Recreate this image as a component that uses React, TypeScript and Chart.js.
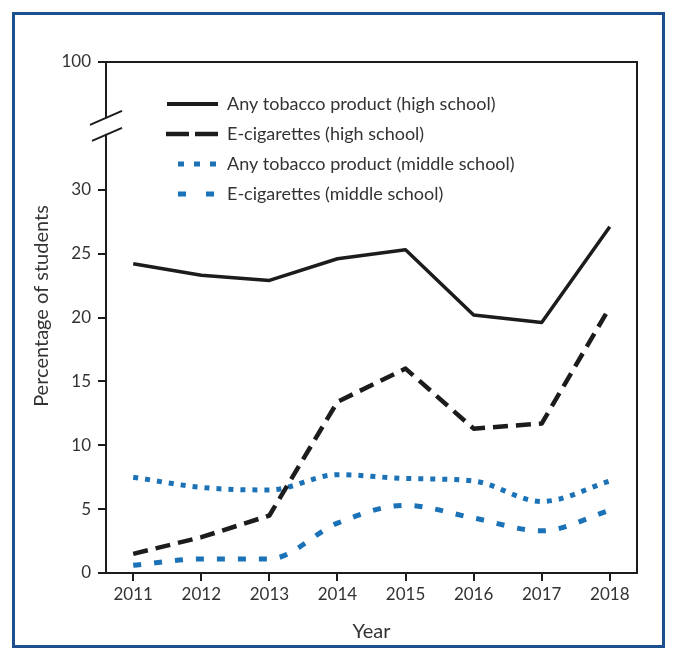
import React, { useEffect, useRef } from "react";
import { Chart, registerables } from "chart.js";

Chart.register(...registerables);

const years = [2011, 2012, 2013, 2014, 2015, 2016, 2017, 2018];
const tobaccoHigh = [24.2, 23.3, 22.9, 24.6, 25.3, 20.2, 19.6, 27.1];
const ecigHigh = [1.5, 2.8, 4.5, 13.4, 16.0, 11.3, 11.7, 20.8];
const tobaccoMiddle = [7.5, 6.7, 6.5, 7.7, 7.4, 7.2, 5.6, 7.2];
const ecigMiddle = [0.6, 1.1, 1.1, 3.9, 5.3, 4.3, 3.3, 4.9];

// broken axis: the tick at 40 is shown as "100"
const yTickValues = [0, 5, 10, 15, 20, 25, 30, 40];
const yTickLabels = ["0", "5", "10", "15", "20", "25", "30", "100"];

const seriesLabels = [
  "Any tobacco product (high school)",
  "E-cigarettes (high school)",
  "Any tobacco product (middle school)",
  "E-cigarettes (middle school)",
];

const BLACK = "#1c1c1c";
const BLUE = "#1b72b6";
const TEXT = "#333333";
const FONT = "Lato";

const legendStyles = [
  { color: BLACK, width: 4, dash: [] as number[], x0: 167, x1: 218 },
  { color: BLACK, width: 4.5, dash: [23, 6], x0: 166, x1: 219 },
  { color: BLUE, width: 5, dash: [6, 10], x0: 178, x1: 216 },
  { color: BLUE, width: 5, dash: [8, 20], x0: 178, x1: 214 },
];

const decorPlugin = {
  id: "decor",
  afterDraw(chart: any) {
    const { ctx, chartArea } = chart;
    const { left, right, top, bottom } = chartArea;
    ctx.save();
    // top and right frame
    ctx.strokeStyle = BLACK;
    ctx.lineWidth = 2;
    ctx.beginPath();
    ctx.moveTo(left - 1, top);
    ctx.lineTo(right, top);
    ctx.lineTo(right, bottom);
    ctx.stroke();

    // axis break
    const yScale = chart.scales.y;
    const yb = yScale.getPixelForValue(35);
    ctx.fillStyle = "#ffffff";
    ctx.fillRect(left - 3, yb - 8, 6, 16);
    ctx.lineWidth = 2;
    ctx.beginPath();
    ctx.moveTo(left - 16, yb - 1);
    ctx.lineTo(left + 16, yb - 15);
    ctx.moveTo(left - 14, yb + 15);
    ctx.lineTo(left + 16, yb + 2);
    ctx.stroke();

    // legend
    const rowsY = [104, 134, 164, 194];
    ctx.font = `18px ${FONT}`;
    ctx.textBaseline = "middle";
    ctx.textAlign = "left";
    legendStyles.forEach((s, i) => {
      ctx.strokeStyle = s.color;
      ctx.lineWidth = s.width;
      ctx.lineCap = "butt";
      ctx.setLineDash(s.dash);
      ctx.beginPath();
      ctx.moveTo(s.x0, rowsY[i]);
      ctx.lineTo(s.x1, rowsY[i]);
      ctx.stroke();
      ctx.setLineDash([]);
      ctx.fillStyle = TEXT;
      ctx.fillText(seriesLabels[i], 227, rowsY[i]);
    });

    // y axis title
    ctx.translate(42, 306);
    ctx.rotate(-Math.PI / 2);
    ctx.font = `20px ${FONT}`;
    ctx.textAlign = "center";
    ctx.fillStyle = TEXT;
    ctx.fillText("Percentage of students", 0, 0);
    ctx.restore();
  },
};

export default function App() {
  const canvasRef = useRef<HTMLCanvasElement | null>(null);

  useEffect(() => {
    document.body.style.margin = "0";
    const canvas = canvasRef.current;
    if (!canvas) return;
    const toPoints = (arr: number[]) => years.map((yr, i) => ({ x: yr, y: arr[i] }));
    const chart = new Chart(canvas, {
      type: "line",
      data: {
        datasets: [
          {
            label: seriesLabels[0],
            data: toPoints(tobaccoHigh),
            borderColor: BLACK,
            borderWidth: 3.5,
            tension: 0,
          },
          {
            label: seriesLabels[1],
            data: toPoints(ecigHigh),
            borderColor: BLACK,
            borderWidth: 4.5,
            borderDash: [15, 8],
            tension: 0,
          },
          {
            label: seriesLabels[2],
            data: toPoints(tobaccoMiddle),
            borderColor: BLUE,
            borderWidth: 5,
            borderDash: [5, 7],
            cubicInterpolationMode: "monotone",
          },
          {
            label: seriesLabels[3],
            data: toPoints(ecigMiddle),
            borderColor: BLUE,
            borderWidth: 5,
            borderDash: [8, 13],
            cubicInterpolationMode: "monotone",
          },
        ],
      },
      options: {
        animation: false,
        responsive: false,
        maintainAspectRatio: false,
        layout: { padding: { top: 62, right: 41, left: 0, bottom: 0 } },
        elements: {
          point: { radius: 0, hoverRadius: 0 },
          line: { borderCapStyle: "butt", borderJoinStyle: "round", fill: false },
        },
        plugins: {
          legend: { display: false },
          tooltip: { enabled: false },
        },
        scales: {
          x: {
            type: "linear",
            min: 2010.6,
            max: 2018.4,
            afterBuildTicks: (scale: any) => {
              scale.ticks = years.map((v) => ({ value: v }));
            },
            afterFit: (scale: any) => {
              scale.height = 88;
            },
            ticks: {
              callback: (v: any) => String(v),
              color: TEXT,
              font: { family: FONT, size: 17 },
              padding: 3,
              maxRotation: 0,
              autoSkip: false,
            },
            grid: {
              display: true,
              drawOnChartArea: false,
              drawTicks: true,
              tickLength: 8,
              color: BLACK,
              lineWidth: 2,
            },
            border: { display: true, color: BLACK, width: 2 },
            title: {
              display: true,
              text: "Year",
              color: TEXT,
              font: { family: FONT, size: 20 },
              padding: { top: 0, bottom: 17 },
            },
          },
          y: {
            type: "linear",
            min: 0,
            max: 40,
            afterBuildTicks: (scale: any) => {
              scale.ticks = yTickValues.map((v) => ({ value: v }));
            },
            afterFit: (scale: any) => {
              scale.width = 106;
            },
            ticks: {
              callback: (v: any) => yTickLabels[yTickValues.indexOf(Number(v))],
              color: TEXT,
              font: { family: FONT, size: 17 },
              padding: 7,
              autoSkip: false,
            },
            grid: {
              display: true,
              drawOnChartArea: false,
              drawTicks: true,
              tickLength: 8,
              color: BLACK,
              lineWidth: 2,
            },
            border: { display: true, color: BLACK, width: 2 },
          },
        },
      },
      plugins: [decorPlugin],
    } as any);
    return () => chart.destroy();
  }, []);

  return (
    <div style={{ position: "relative", width: 678, height: 661, background: "#ffffff" }}>
      <div
        style={{
          position: "absolute",
          left: 12,
          top: 12,
          width: 653,
          height: 636,
          border: "3px solid #1d4f8c",
          boxSizing: "border-box",
        }}
      />
      <canvas
        ref={canvasRef}
        width={678}
        height={661}
        style={{ position: "absolute", left: 0, top: 0, width: 678, height: 661 }}
      />
    </div>
  );
}
